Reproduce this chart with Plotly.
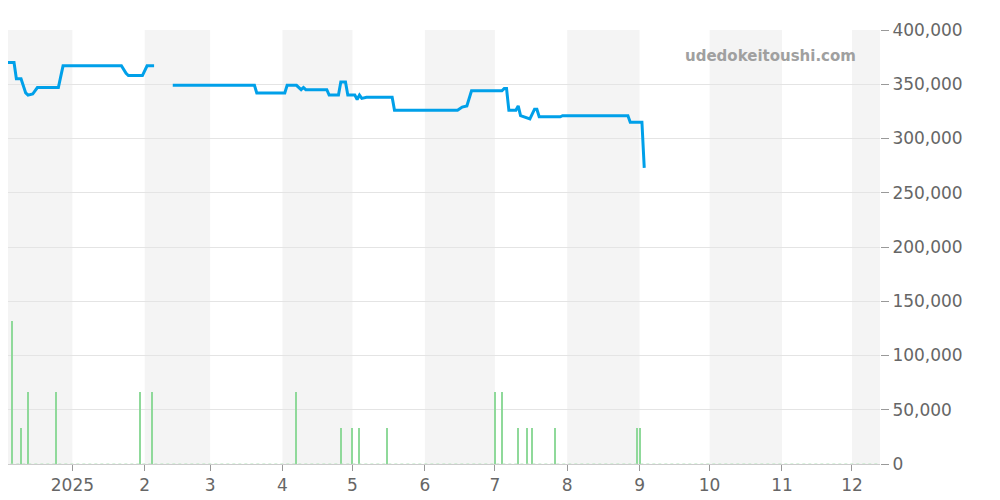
import plotly.graph_objects as go

# price line (None = gap)
price_dates = ["2024-12-01", "2024-12-07", "2024-12-08", "2024-12-10", "2024-12-12", "2024-12-13",
               "2024-12-15", "2024-12-17", "2024-12-26", "2024-12-28", "2025-01-22", "2025-01-24",
               "2025-01-25", "2025-01-31", "2025-02-02", "2025-02-05", "2025-02-09",
               "2025-02-13", "2025-03-20", "2025-03-21", "2025-04-02", "2025-04-03", "2025-04-07",
               "2025-04-09", "2025-04-10", "2025-04-11", "2025-04-20", "2025-04-21", "2025-04-25",
               "2025-04-26", "2025-04-28", "2025-04-29", "2025-05-02", "2025-05-03", "2025-05-04",
               "2025-05-05", "2025-05-07", "2025-05-18", "2025-05-19", "2025-06-15", "2025-06-17",
               "2025-06-19", "2025-06-21", "2025-07-04", "2025-07-05", "2025-07-06", "2025-07-07",
               "2025-07-10", "2025-07-11", "2025-07-12", "2025-07-16", "2025-07-18", "2025-07-19",
               "2025-07-20", "2025-07-29", "2025-07-30", "2025-08-27", "2025-08-28", "2025-09-02",
               "2025-09-03"]
price_vals = [370000, 370000, 355000, 355000, 342000, 340000,
              341000, 347000, 347000, 367000, 367000, 360000,
              358000, 358000, 367000, 367000, None,
              349000, 349000, 342000, 342000, 349000, 349000,
              345000, 347000, 345000, 345000, 340000, 340000,
              352000, 352000, 340000, 340000, 336000, 340000,
              337000, 338000, 338000, 326000, 326000, 329000,
              330000, 344000, 344000, 346000, 346000, 326000,
              326000, 330000, 321000, 318000, 327000, 327000,
              320000, 320000, 321000, 321000, 315000, 315000,
              273000]

# volume bars
vol_dates = ["2024-12-06", "2024-12-10", "2024-12-13", "2024-12-25", "2025-01-30", "2025-02-04",
             "2025-04-07", "2025-04-26", "2025-05-01", "2025-05-04", "2025-05-16", "2025-07-01",
             "2025-07-04", "2025-07-11", "2025-07-15", "2025-07-17", "2025-07-27", "2025-08-31",
             "2025-09-01"]
vol_vals = [132000, 33000, 66000, 66000, 66000, 66000,
            66000, 33000, 33000, 33000, 33000, 66000,
            66000, 33000, 33000, 33000, 33000, 33000,
            33000]

tick_vals = ["2025-01-01", "2025-02-01", "2025-03-01", "2025-04-01", "2025-05-01", "2025-06-01",
             "2025-07-01", "2025-08-01", "2025-09-01", "2025-10-01", "2025-11-01", "2025-12-01"]
tick_text = ["2025", "2", "3", "4", "5", "6", "7", "8", "9", "10", "11", "12"]
bands = [("2024-11-20", "2025-01-01"), ("2025-02-01", "2025-03-01"), ("2025-04-01", "2025-05-01"),
         ("2025-06-01", "2025-07-01"), ("2025-08-01", "2025-09-01"), ("2025-10-01", "2025-11-01"),
         ("2025-12-01", "2025-12-20")]

fig = go.Figure()
fig.add_trace(go.Bar(x=vol_dates, y=vol_vals, width=0.5 * 86400000,
                     marker_color="#8fd99a", marker_line_width=0, hoverinfo="skip"))
fig.add_trace(go.Scatter(x=["2024-11-20", "2025-12-20"], y=[0, 0], mode="lines",
                         line=dict(color="#b5e6bc", width=1, dash="dot"), hoverinfo="skip"))
fig.add_trace(go.Scatter(x=price_dates, y=price_vals, mode="lines", connectgaps=False,
                         line=dict(color="#00a0e9", width=3)))

for a, b in bands:
    fig.add_shape(type="rect", xref="x", yref="paper", x0=a, x1=b, y0=0, y1=1,
                  fillcolor="#f4f4f4", line_width=0, layer="below")

fig.add_annotation(text="udedokeitoushi.com", xref="paper", yref="paper", x=0.975, y=0.965,
                   xanchor="right", yanchor="top", showarrow=False,
                   font=dict(size=15, color="#a0a0a0", family="DejaVu Sans", weight="bold"))

fig.update_layout(
    width=1000, height=500, showlegend=False, bargap=0,
    plot_bgcolor="white", paper_bgcolor="white",
    margin=dict(l=0, r=128, t=22, b=44),
    font=dict(family="DejaVu Sans", size=17, color="#666666"),
    xaxis=dict(range=["2024-12-04 10:00", "2025-12-13"], tickvals=tick_vals, ticktext=tick_text,
               showgrid=False, ticks="outside", ticklen=6, tickcolor="#999999",
               showline=True, linecolor="#cccccc", zeroline=False),
    yaxis=dict(range=[0, 400000], side="right", dtick=50000, tickformat=",",
               gridcolor="#e4e4e4", ticks="outside", ticklen=8, tickcolor="#999999",
               zeroline=False, showline=False),
)
fig.write_html("out.html")
